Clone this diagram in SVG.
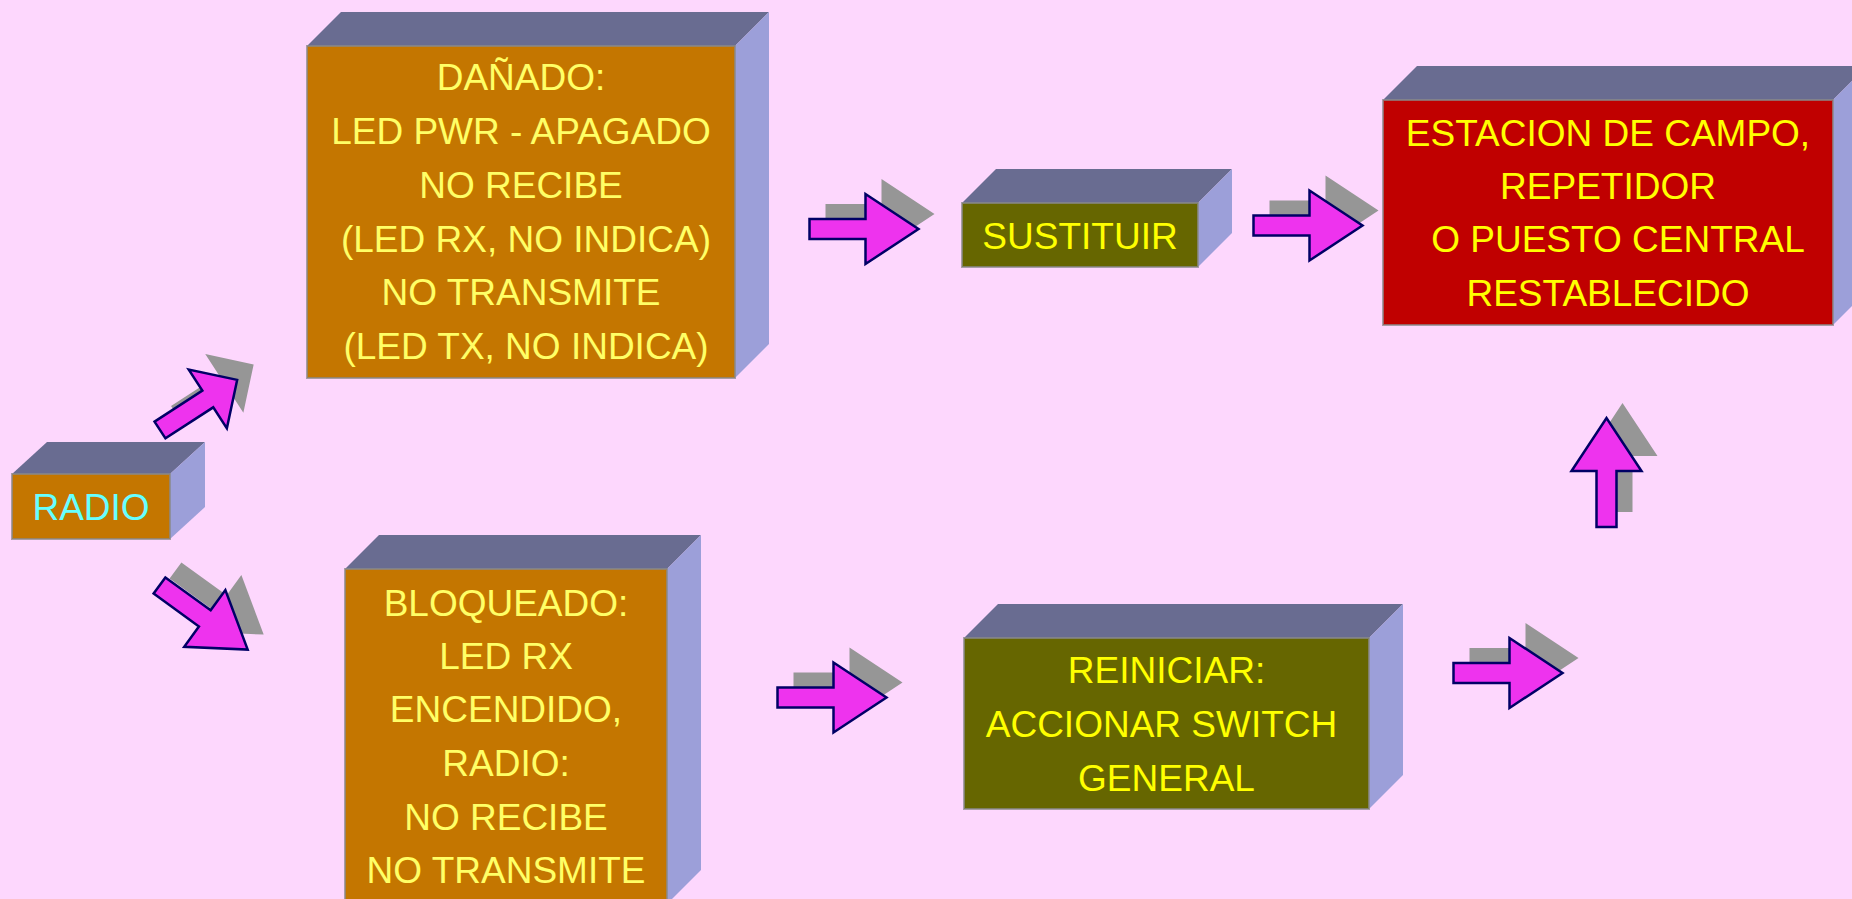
<svg xmlns="http://www.w3.org/2000/svg" xmlns:xlink="http://www.w3.org/1999/xlink" width="1852" height="899" viewBox="0 0 1852 899">
<style>
.top{fill:#696C91}
.side{fill:#9C9FD9}
.front{stroke:#8a8a8a;stroke-opacity:0.75;stroke-width:2}
.orange{fill:#C47600}
.olive{fill:#666600}
.red{fill:#C00000}
text{font-family:"Liberation Sans",Arial,sans-serif;font-size:37px;text-anchor:middle}
.pale{fill:#FFFF66}
.yel{fill:#FFFF00}
.cyan{fill:#66FFFF}
.arr{fill:#EE33EE;stroke:#000066;stroke-width:2.5;stroke-linejoin:miter}
.shd{fill:#969696}
</style>
<defs>
<path id="arrow" d="M0,-10 H56 V-35 L109,0 L56,35 V10 H0 Z"/>
<path id="arrowS" d="M0,-10 H57 V-35 L92,0 L57,35 V10 H0 Z"/>
</defs>
<rect x="0" y="0" width="1852" height="899" fill="#FDD7FD"/>

<g id="connectors">
  <g id="a1"><use xlink:href="#arrowS" class="shd" transform="translate(176.5,414.5) rotate(-33)"/><use xlink:href="#arrowS" class="arr" transform="translate(160,430) rotate(-33)"/></g>
  <g id="a2"><use xlink:href="#arrow" class="shd" transform="translate(175.5,570.5) rotate(36)"/><use xlink:href="#arrow" class="arr" transform="translate(159.5,585.5) rotate(36)"/></g>
  <g id="a3"><use xlink:href="#arrow" class="shd" transform="translate(825.5,214)"/><use xlink:href="#arrow" class="arr" transform="translate(809.5,229)"/></g>
  <g id="a4"><use xlink:href="#arrow" class="shd" transform="translate(1269.5,210.5)"/><use xlink:href="#arrow" class="arr" transform="translate(1253.5,225.5)"/></g>
  <g id="a5"><use xlink:href="#arrow" class="shd" transform="translate(793.5,682.5)"/><use xlink:href="#arrow" class="arr" transform="translate(777.5,697.5)"/></g>
  <g id="a6"><use xlink:href="#arrow" class="shd" transform="translate(1469.5,658)"/><use xlink:href="#arrow" class="arr" transform="translate(1453.5,673)"/></g>
  <g id="a7"><use xlink:href="#arrow" class="shd" transform="translate(1622.5,512) rotate(-90)"/><use xlink:href="#arrow" class="arr" transform="translate(1606.5,527) rotate(-90)"/></g>
</g>

<g id="radio">
  <polygon class="top" points="12,474 47,442 205,442 170,474"/>
  <polygon class="side" points="170,474 205,442 205,507 170,539"/>
  <rect class="front orange" x="12" y="474" width="158" height="65"/>
  <text class="cyan" x="91" y="520">RADIO</text>
</g>

<g id="danado">
  <polygon class="top" points="307,46 341,12 769,12 735,46"/>
  <polygon class="side" points="735,46 769,12 769,344 735,378"/>
  <rect class="front orange" x="307" y="46" width="428" height="332"/>
  <text class="pale" x="521" y="90">DAÑADO:</text>
  <text class="pale" x="521" y="144">LED PWR - APAGADO</text>
  <text class="pale" x="521" y="198">NO RECIBE</text>
  <text class="pale" x="526" y="252">(LED RX, NO INDICA)</text>
  <text class="pale" x="521" y="305">NO TRANSMITE</text>
  <text class="pale" x="526" y="359">(LED TX, NO INDICA)</text>
</g>

<g id="sustituir">
  <polygon class="top" points="962,203 996,169 1232,169 1198,203"/>
  <polygon class="side" points="1198,203 1232,169 1232,233 1198,267"/>
  <rect class="front olive" x="962" y="203" width="236" height="64"/>
  <text class="yel" x="1080" y="249">SUSTITUIR</text>
</g>

<g id="estacion">
  <polygon class="top" points="1383,100 1417,66 1867,66 1833,100"/>
  <polygon class="side" points="1833,100 1867,66 1867,291 1833,325"/>
  <rect class="front red" x="1383" y="100" width="450" height="225"/>
  <text class="yel" x="1608" y="146">ESTACION DE CAMPO,</text>
  <text class="yel" x="1608" y="199">REPETIDOR</text>
  <text class="yel" x="1618" y="252">O PUESTO CENTRAL</text>
  <text class="yel" x="1608" y="306">RESTABLECIDO</text>
</g>

<g id="bloqueado">
  <polygon class="top" points="345,569 379,535 701,535 667,569"/>
  <polygon class="side" points="667,569 701,535 701,870 667,904"/>
  <rect class="front orange" x="345" y="569" width="322" height="335"/>
  <text class="pale" x="506" y="616">BLOQUEADO:</text>
  <text class="pale" x="506" y="669">LED RX</text>
  <text class="pale" x="506" y="722">ENCENDIDO,</text>
  <text class="pale" x="506" y="776">RADIO:</text>
  <text class="pale" x="506" y="830">NO RECIBE</text>
  <text class="pale" x="506" y="883">NO TRANSMITE</text>
</g>

<g id="reiniciar">
  <polygon class="top" points="964,638 998,604 1403,604 1369,638"/>
  <polygon class="side" points="1369,638 1403,604 1403,775 1369,809"/>
  <rect class="front olive" x="964" y="638" width="405" height="171"/>
  <text class="yel" x="1166.5" y="683">REINICIAR:</text>
  <text class="yel" x="1161.5" y="737">ACCIONAR SWITCH</text>
  <text class="yel" x="1166.5" y="791">GENERAL</text>
</g>
</svg>
